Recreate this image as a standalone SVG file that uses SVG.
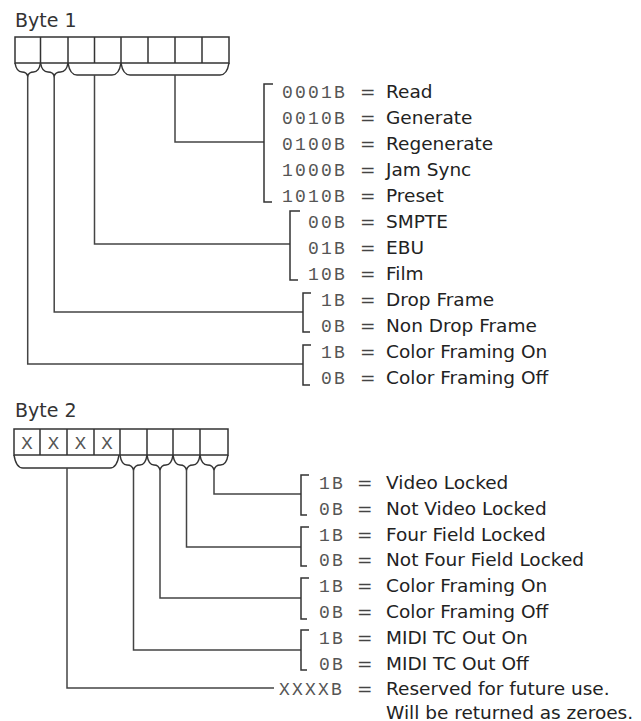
<svg xmlns="http://www.w3.org/2000/svg" width="641" height="721" viewBox="0 0 641 721">
<style>
.bg{fill:#fff}
.box{fill:none;stroke:#333;stroke-width:1.5}
.ln{fill:none;stroke:#444;stroke-width:1.5}
.br{fill:none;stroke:#333;stroke-width:1.5}
.lbl{font-family:"DejaVu Sans","Liberation Sans",sans-serif;font-size:19px;fill:#333}
.code{font-family:"Liberation Mono","DejaVu Sans Mono",monospace;font-size:18px;letter-spacing:2.2px;fill:#555}
.eq{font-family:"DejaVu Sans","Liberation Sans",sans-serif;font-size:18.5px;fill:#444}
.desc{font-family:"DejaVu Sans","Liberation Sans",sans-serif;font-size:18.5px;fill:#222}
.x{font-family:"Liberation Mono","DejaVu Sans Mono",monospace;font-size:19px;fill:#555;text-anchor:middle}
</style>
<rect class="bg" x="0" y="0" width="641" height="721"/>

<g id="byte1">
  <text class="lbl" x="15" y="27">Byte 1</text>
  <rect class="box" x="15" y="37" width="214" height="26"/>
  <path class="box" d="M40.5 37V63M68 37V63M94.5 37V63M121 37V63M148 37V63M175 37V63M202 37V63"/>
  <path class="br" d="M15 63Q16.5 72 22 72Q26.5 72 27.7 76Q29 72 33.5 72Q39 72 40.5 63"/>
  <path class="br" d="M40.5 63Q42 72 48 72Q53 72 54.2 76Q55.5 72 60.5 72Q66.5 72 68 63"/>
  <path class="br" d="M68 63Q70 75 77 75H112Q119 75 121 63"/>
  <path class="br" d="M121 63Q123 75 130 75H220Q227 75 229 63"/>
</g>

<g id="byte2">
  <text class="lbl" x="15" y="417">Byte 2</text>
  <rect class="box" x="14" y="429" width="214" height="26"/>
  <path class="box" d="M40 429V455M67 429V455M94 429V455M120 429V455M147 429V455M173 429V455M200 429V455"/>
  <text class="x" x="27" y="449">X</text>
  <text class="x" x="53.5" y="449">X</text>
  <text class="x" x="80.5" y="449">X</text>
  <text class="x" x="107" y="449">X</text>
  <path class="br" d="M14 455Q16 468 23 468H110Q117 468 119 455"/>
  <path class="br" d="M120 455Q121.5 465 127 465Q132.3 465 133.5 470Q134.7 465 140 465Q145.5 465 147 455"/>
  <path class="br" d="M147 455Q148.5 465 154 465Q158.8 465 160 470Q161.2 465 166 465Q171.5 465 173 455"/>
  <path class="br" d="M173 455Q174.5 465 180 465Q185.3 465 186.5 470Q187.7 465 193 465Q198.5 465 200 455"/>
  <path class="br" d="M200 455Q201.5 465 207.5 465Q212.8 465 214 470Q215.2 465 220.5 465Q226.5 465 228 455"/>
</g>

<g id="connectors">
  <path class="ln" d="M175 75V142H264"/>
  <path class="ln" d="M94.5 75V244H290"/>
  <path class="ln" d="M54.2 76V312H303"/>
  <path class="ln" d="M27.7 76V364H303"/>
  <path class="ln" d="M214 470V494H301"/>
  <path class="ln" d="M186.5 470V547H301"/>
  <path class="ln" d="M160 470V598H301"/>
  <path class="ln" d="M133.5 470V650H301"/>
  <path class="ln" d="M67 468V688H274"/>
</g>

<g id="mode-values">
  <path class="br" d="M273 84H264V202H272"/>
  <text class="code" x="282" y="97.5">0001B</text><text class="eq" x="360" y="97.5">=</text><text class="desc" x="386" y="97.5">Read</text>
  <text class="code" x="282" y="123.5">0010B</text><text class="eq" x="360" y="123.5">=</text><text class="desc" x="386" y="123.5">Generate</text>
  <text class="code" x="282" y="149.5">0100B</text><text class="eq" x="360" y="149.5">=</text><text class="desc" x="386" y="149.5">Regenerate</text>
  <text class="code" x="282" y="175.5">1000B</text><text class="eq" x="360" y="175.5">=</text><text class="desc" x="386" y="175.5">Jam Sync</text>
  <text class="code" x="282" y="201.5">1010B</text><text class="eq" x="360" y="201.5">=</text><text class="desc" x="386" y="201.5">Preset</text>
</g>

<g id="format-values">
  <path class="br" d="M300 211H290V280H298"/>
  <text class="code" x="308" y="227.5">00B</text><text class="eq" x="360" y="227.5">=</text><text class="desc" x="386" y="227.5">SMPTE</text>
  <text class="code" x="308" y="253.5">01B</text><text class="eq" x="360" y="253.5">=</text><text class="desc" x="386" y="253.5">EBU</text>
  <text class="code" x="308" y="279.5">10B</text><text class="eq" x="360" y="279.5">=</text><text class="desc" x="386" y="279.5">Film</text>
</g>

<g id="drop-frame-values">
  <path class="br" d="M311 293H303V332H310"/>
  <text class="code" x="321" y="305.5">1B</text><text class="eq" x="360" y="305.5">=</text><text class="desc" x="386" y="305.5">Drop Frame</text>
  <text class="code" x="321" y="331.5">0B</text><text class="eq" x="360" y="331.5">=</text><text class="desc" x="386" y="331.5">Non Drop Frame</text>
</g>

<g id="color-framing-values-1">
  <path class="br" d="M311 345H303V385H310"/>
  <text class="code" x="321" y="357.5">1B</text><text class="eq" x="360" y="357.5">=</text><text class="desc" x="386" y="357.5">Color Framing On</text>
  <text class="code" x="321" y="383.5">0B</text><text class="eq" x="360" y="383.5">=</text><text class="desc" x="386" y="383.5">Color Framing Off</text>
</g>

<g id="video-locked-values">
  <path class="br" d="M309 475H301V515H307"/>
  <text class="code" x="319" y="488.5">1B</text><text class="eq" x="357" y="488.5">=</text><text class="desc" x="386" y="488.5">Video Locked</text>
  <text class="code" x="319" y="514.5">0B</text><text class="eq" x="357" y="514.5">=</text><text class="desc" x="386" y="514.5">Not Video Locked</text>
</g>

<g id="four-field-values">
  <path class="br" d="M309 527H301V566H307"/>
  <text class="code" x="319" y="540.5">1B</text><text class="eq" x="357" y="540.5">=</text><text class="desc" x="386" y="540.5">Four Field Locked</text>
  <text class="code" x="319" y="566">0B</text><text class="eq" x="357" y="566">=</text><text class="desc" x="386" y="566">Not Four Field Locked</text>
</g>

<g id="color-framing-values-2">
  <path class="br" d="M309 578H301V619H307"/>
  <text class="code" x="319" y="591.5">1B</text><text class="eq" x="357" y="591.5">=</text><text class="desc" x="386" y="591.5">Color Framing On</text>
  <text class="code" x="319" y="617.5">0B</text><text class="eq" x="357" y="617.5">=</text><text class="desc" x="386" y="617.5">Color Framing Off</text>
</g>

<g id="midi-tc-values">
  <path class="br" d="M309 630H301V670H307"/>
  <text class="code" x="319" y="643.5">1B</text><text class="eq" x="357" y="643.5">=</text><text class="desc" x="386" y="643.5">MIDI TC Out On</text>
  <text class="code" x="319" y="669.5">0B</text><text class="eq" x="357" y="669.5">=</text><text class="desc" x="386" y="669.5">MIDI TC Out Off</text>
</g>

<g id="reserved-values">
  <text class="code" x="279" y="694.5">XXXXB</text><text class="eq" x="357" y="694.5">=</text><text class="desc" x="386" y="694.5">Reserved for future use.</text>
  <text class="desc" x="386" y="718.5">Will be returned as zeroes.</text>
</g>
</svg>
